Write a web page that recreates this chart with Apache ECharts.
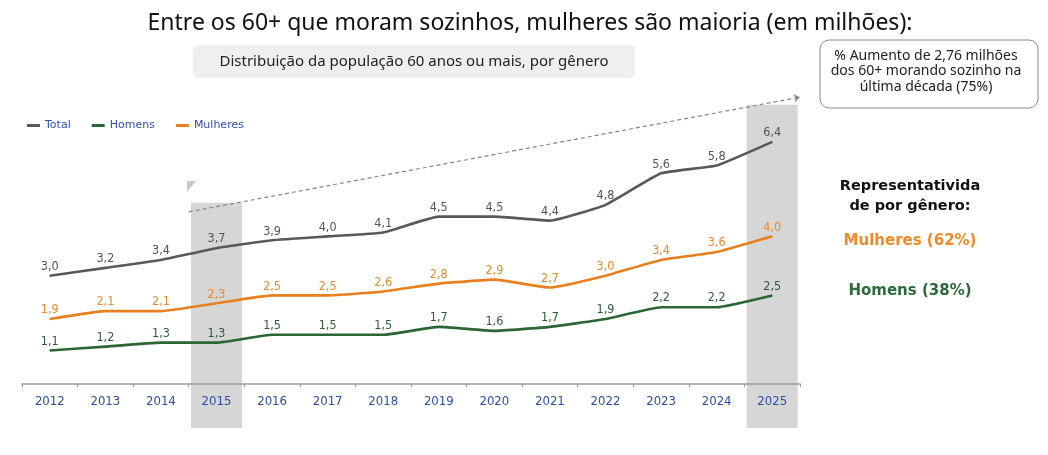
<!DOCTYPE html>
<html>
<head>
<meta charset="utf-8">
<script src="https://cdn.jsdelivr.net/npm/echarts@6/dist/echarts.min.js"></script>
<style>
  html, body { margin: 0; padding: 0; background: #fff; }
  #chart { width: 1048px; height: 455px; }
</style>
</head>
<body>
<div id="chart"></div>
<script>
// dados (milhões)
const anos = ['2012', '2013', '2014', '2015', '2016', '2017', '2018', '2019', '2020', '2021', '2022', '2023', '2024', '2025'];
const total = [3.0, 3.2, 3.4, 3.7, 3.9, 4.0, 4.1, 4.5, 4.5, 4.4, 4.8, 5.6, 5.8, 6.4];
const homens = [1.1, 1.2, 1.3, 1.3, 1.5, 1.5, 1.5, 1.7, 1.6, 1.7, 1.9, 2.2, 2.2, 2.5];
const mulheres = [1.9, 2.1, 2.1, 2.3, 2.5, 2.5, 2.6, 2.8, 2.9, 2.7, 3.0, 3.4, 3.6, 4.0];

// faixas cinza (ano, altura em % do quadro) e linha tracejada de tendência
const faixas = [[2015, 52.6], [2025, 75.5]];
const tendencia = [[2014.5, 50.5], [2025.5, 77.3]];

const cores = { total: '#595959', homens: '#2b6636', mulheres: '#e8801f' };
const fonte = 'DejaVu Sans, Verdana, sans-serif';
const fonteEstreita = '"DejaVu Sans Condensed", "Liberation Sans", sans-serif';

const chart = echarts.init(document.getElementById('chart'));

function serieLinha(nome, dados, cor, corLabel) {
  return {
    name: nome,
    type: 'line',
    data: dados,
    xAxisIndex: 0,
    yAxisIndex: 0,
    smooth: 0.12,
    symbol: 'circle',
    symbolSize: 1,
    showSymbol: true,
    z: 5,
    lineStyle: { color: cor, width: 2.6 },
    itemStyle: { color: cor },
    label: {
      show: true,
      position: 'top',
      distance: 2,
      fontFamily: fonteEstreita,
      fontSize: 12.5,
      color: corLabel,
      formatter: (p) => p.value.toFixed(1).replace('.', ',')
    }
  };
}

const option = {
  animation: false,
  backgroundColor: '#fff',
  legend: {
    left: 22,
    top: 115,
    icon: 'rect',
    itemWidth: 13,
    itemHeight: 3,
    itemGap: 21,
    textStyle: { fontFamily: fonte, fontSize: 11, color: '#2f4fb5' },
    data: ['Total', 'Homens', 'Mulheres']
  },
  grid: [
    { left: 22, right: 248, top: 69, bottom: 71 },
    { left: 22, right: 248, top: 0, bottom: 27 }
  ],
  xAxis: [
    {
      type: 'category',
      gridIndex: 0,
      data: anos,
      boundaryGap: true,
      z: 6,
      axisLine: { lineStyle: { color: '#9a9a9a', width: 1.5 } },
      axisTick: { show: true, length: 3, lineStyle: { color: '#9a9a9a' } },
      axisLabel: { fontFamily: fonteEstreita, fontSize: 13, color: '#2a4db0', margin: 11 }
    },
    { type: 'value', gridIndex: 1, min: 2011.5, max: 2025.5, show: false }
  ],
  yAxis: [
    { type: 'value', gridIndex: 0, min: 0.25, max: 8.25, show: false, splitLine: { show: false } },
    { type: 'value', gridIndex: 1, min: 0, max: 100, show: false, splitLine: { show: false } }
  ],
  series: [
    {
      name: 'faixas',
      type: 'bar',
      xAxisIndex: 1,
      yAxisIndex: 1,
      data: faixas,
      barWidth: 51,
      z: 1,
      itemStyle: { color: '#d6d6d6' },
      silent: true
    },
    {
      name: 'tendencia',
      type: 'line',
      xAxisIndex: 1,
      yAxisIndex: 1,
      data: [
        tendencia[0],
        { value: tendencia[1], symbol: 'arrow', symbolSize: 6, symbolRotate: -80 }
      ],
      symbol: 'none',
      z: 2,
      lineStyle: { color: '#858585', width: 1.2, type: [4, 3] },
      itemStyle: { color: '#858585' },
      silent: true
    },
    serieLinha('Total', total, cores.total, '#555555'),
    serieLinha('Homens', homens, cores.homens, '#2e5b37'),
    serieLinha('Mulheres', mulheres, cores.mulheres, '#ea8a2b')
  ],
  graphic: [
    {
      type: 'text',
      x: 530,
      y: 23,
      style: {
        text: 'Entre os 60+ que moram sozinhos, mulheres são maioria (em milhões):',
        font: '23px "Noto Sans", sans-serif',
        fill: '#111',
        align: 'center',
        verticalAlign: 'middle'
      }
    },
    {
      type: 'rect',
      shape: { x: 193, y: 45, width: 442, height: 33, r: 5 },
      style: { fill: '#efefef' }
    },
    {
      type: 'text',
      x: 414,
      y: 61.5,
      style: {
        text: 'Distribuição da população 60 anos ou mais, por gênero',
        font: '15px "Noto Sans", sans-serif',
        fill: '#222',
        align: 'center',
        verticalAlign: 'middle'
      }
    },
    {
      type: 'rect',
      shape: { x: 820, y: 40, width: 218, height: 68, r: 9 },
      style: { fill: '#fff', stroke: '#8a8a8a', lineWidth: 1 }
    },
    {
      type: 'text',
      x: 926,
      y: 71.5,
      style: {
        text: '% Aumento de 2,76 milhões\ndos 60+ morando sozinho na\núltima década (75%)',
        font: '14px "Noto Sans", sans-serif',
        lineHeight: 15.5,
        fill: '#222',
        align: 'center',
        verticalAlign: 'middle'
      }
    },
    {
      type: 'text',
      x: 910,
      y: 196,
      style: {
        text: 'Representativida\nde por gênero:',
        font: 'bold 14.5px "DejaVu Sans", sans-serif',
        lineHeight: 20,
        fill: '#111',
        align: 'center',
        verticalAlign: 'middle'
      }
    },
    {
      type: 'text',
      x: 910,
      y: 241,
      style: {
        text: 'Mulheres (62%)',
        font: 'bold 15px "DejaVu Sans", sans-serif',
        fill: '#f08a24',
        align: 'center',
        verticalAlign: 'middle'
      }
    },
    {
      type: 'text',
      x: 910,
      y: 291,
      style: {
        text: 'Homens (38%)',
        font: 'bold 15px "DejaVu Sans", sans-serif',
        fill: '#2d6a3a',
        align: 'center',
        verticalAlign: 'middle'
      }
    },
    {
      type: 'polygon',
      shape: { points: [[187, 181], [196, 181], [187, 192]] },
      style: { fill: '#c9c9c9' }
    }
  ]
};

chart.setOption(option);
</script>
</body>
</html>
